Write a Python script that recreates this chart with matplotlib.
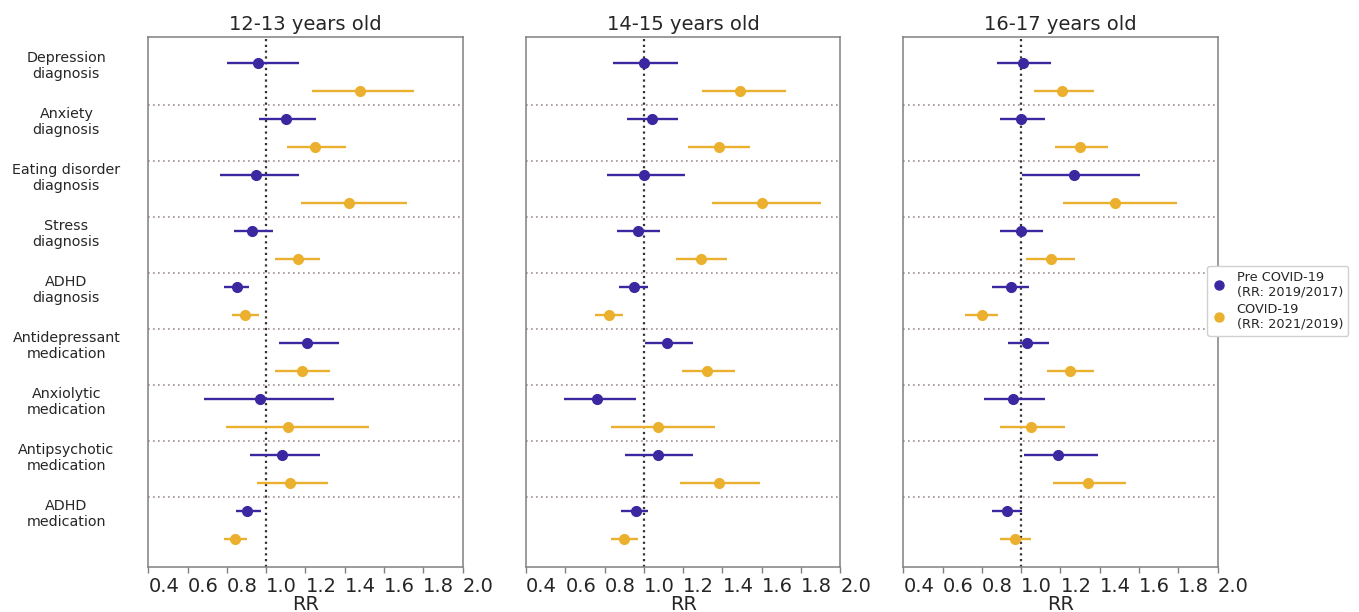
import matplotlib
matplotlib.use("Agg")
import matplotlib.pyplot as plt
from matplotlib.lines import Line2D
import numpy as np

categories = ["Depression\ndiagnosis", "Anxiety\ndiagnosis", "Eating disorder\ndiagnosis",
              "Stress\ndiagnosis", "ADHD\ndiagnosis", "Antidepressant\nmedication",
              "Anxiolytic\nmedication", "Antipsychotic\nmedication", "ADHD\nmedication"]
panel_titles = ["12-13 years old", "14-15 years old", "16-17 years old"]
series_labels = ["Pre COVID-19\n(RR: 2019/2017)", "COVID-19\n(RR: 2021/2019)"]
xtick_values = [0.4, 0.6, 0.8, 1.0, 1.2, 1.4, 1.6, 1.8, 2.0]

# 12-13 years old
pre_12_rr = [0.96, 1.10, 0.95, 0.93, 0.85, 1.21, 0.97, 1.08, 0.90]
pre_12_lo = [0.80, 0.965, 0.765, 0.836, 0.784, 1.065, 0.685, 0.916, 0.847]
pre_12_hi = [1.166, 1.254, 1.166, 1.035, 0.914, 1.373, 1.344, 1.274, 0.972]
cov_12_rr = [1.48, 1.25, 1.42, 1.16, 0.89, 1.18, 1.11, 1.12, 0.84]
cov_12_lo = [1.235, 1.106, 1.176, 1.045, 0.825, 1.045, 0.796, 0.955, 0.785]
cov_12_hi = [1.754, 1.405, 1.716, 1.274, 0.964, 1.324, 1.524, 1.313, 0.904]

# 14-15 years old
pre_14_rr = [1.00, 1.04, 1.00, 0.97, 0.95, 1.12, 0.76, 1.07, 0.96]
pre_14_lo = [0.845, 0.914, 0.814, 0.863, 0.875, 1.004, 0.593, 0.904, 0.884]
pre_14_hi = [1.172, 1.172, 1.211, 1.084, 1.021, 1.252, 0.962, 1.252, 1.023]
cov_14_rr = [1.49, 1.38, 1.60, 1.29, 0.82, 1.32, 1.07, 1.38, 0.90]
cov_14_lo = [1.294, 1.225, 1.345, 1.165, 0.753, 1.193, 0.833, 1.184, 0.833]
cov_14_hi = [1.724, 1.542, 1.902, 1.422, 0.892, 1.462, 1.362, 1.593, 0.970]

# 16-17 years old
pre_16_rr = [1.01, 1.00, 1.27, 1.00, 0.95, 1.03, 0.96, 1.19, 0.93]
pre_16_lo = [0.876, 0.894, 1.004, 0.894, 0.853, 0.935, 0.812, 1.013, 0.853]
pre_16_hi = [1.152, 1.123, 1.604, 1.111, 1.042, 1.143, 1.121, 1.393, 1.003]
cov_16_rr = [1.21, 1.30, 1.48, 1.15, 0.80, 1.25, 1.05, 1.34, 0.97]
cov_16_lo = [1.064, 1.174, 1.215, 1.025, 0.714, 1.133, 0.894, 1.164, 0.894]
cov_16_hi = [1.373, 1.441, 1.794, 1.273, 0.882, 1.371, 1.222, 1.532, 1.052]

panels = [
    (pre_12_rr, pre_12_lo, pre_12_hi, cov_12_rr, cov_12_lo, cov_12_hi),
    (pre_14_rr, pre_14_lo, pre_14_hi, cov_14_rr, cov_14_lo, cov_14_hi),
    (pre_16_rr, pre_16_lo, pre_16_hi, cov_16_rr, cov_16_lo, cov_16_hi),
]

PRE_COLOR = "#3b27a0"
COV_COLOR = "#ebb02d"
TEXT_COLOR = "#262626"
SPINE_COLOR = "#808080"

W, H = 1359, 612
fig = plt.figure(figsize=(W / 100, H / 100), dpi=100)
fig.patch.set_facecolor("white")

lefts_px = [148.3, 526.0, 903.3]
width_px = 314.3
top_px, bottom_px = 36.7, 567.3

n = len(categories)
cat_idx = np.arange(n)
pre_y = cat_idx - 0.25
cov_y = cat_idx + 0.25

for k, (lpx, title, data) in enumerate(zip(lefts_px, panel_titles, panels)):
    ax = fig.add_axes([lpx / W, 1 - bottom_px / H, width_px / W, (bottom_px - top_px) / H])
    p_rr, p_lo, p_hi, c_rr, c_lo, c_hi = [np.array(d) for d in data]

    for i in range(n - 1):
        ax.axhline(i + 0.5, color="#a08f8f", linestyle=(0, (1, 2)), lw=1.2, zorder=1)
    ax.axvline(1.0, color="#333333", linestyle=(0, (1, 1.6)), lw=1.6, zorder=1)

    ax.errorbar(p_rr, pre_y, xerr=[p_rr - p_lo, p_hi - p_rr], fmt="o", color=PRE_COLOR,
                ms=7, lw=1.7, capsize=0, zorder=3)
    ax.errorbar(c_rr, cov_y, xerr=[c_rr - c_lo, c_hi - c_rr], fmt="o", color=COV_COLOR,
                ms=7, lw=1.7, capsize=0, zorder=3)

    ax.set_xlim(0.4, 2.0)
    ax.set_ylim(8.755, -0.72)
    ax.set_xticks(xtick_values)
    ax.set_xticklabels([f"{v:.1f}" for v in xtick_values], ha="left", fontsize=14, color=TEXT_COLOR)
    ax.tick_params(axis="x", length=4, width=1, color=SPINE_COLOR, pad=3)
    ax.set_xlabel("RR", fontsize=14, color=TEXT_COLOR, labelpad=-1)
    ax.set_title(title, fontsize=14, color=TEXT_COLOR, pad=5)

    if k == 0:
        ax.set_yticks(pre_y)
        ax.set_yticklabels(categories, fontsize=10.3, color=TEXT_COLOR, ha="center",
                           multialignment="center")
        ax.tick_params(axis="y", length=0, pad=59)
    else:
        ax.set_yticks([])

    for s in ax.spines.values():
        s.set_color(SPINE_COLOR)
        s.set_linewidth(1.1)

handles = [Line2D([], [], marker="o", linestyle="none", color=PRE_COLOR, markersize=6.5),
           Line2D([], [], marker="o", linestyle="none", color=COV_COLOR, markersize=6.5)]
leg = fig.legend(handles, series_labels, loc="upper left",
                 bbox_to_anchor=(1207 / W, 1 - 265.7 / H), borderaxespad=0,
                 fontsize=9.3, frameon=True, handlelength=1.0, handletextpad=0.9,
                 borderpad=0.4, labelspacing=0.3, framealpha=1)
leg.get_frame().set_edgecolor("#d0d0d0")
for t in leg.get_texts():
    t.set_color(TEXT_COLOR)

fig.savefig("out.png", dpi=100, facecolor="white")
